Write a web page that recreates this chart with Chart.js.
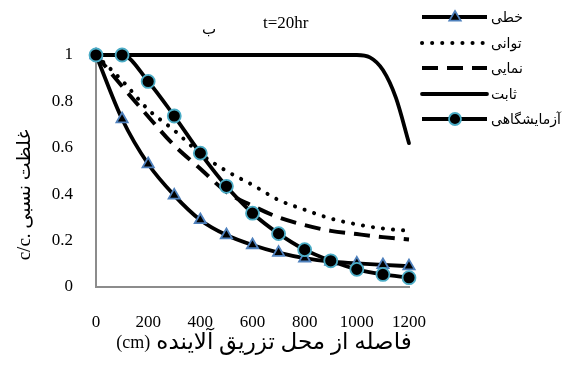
<!DOCTYPE html>
<html>
<head>
<meta charset="utf-8">
<script src="https://cdn.jsdelivr.net/npm/chart.js@4/dist/chart.umd.min.js"></script>
<style>
  html, body { margin: 0; padding: 0; background: #ffffff; }
  #wrap { width: 569px; height: 366px; position: relative; }
</style>
</head>
<body>
<div id="wrap"><canvas id="c" width="569" height="366"></canvas></div>
<script>
// ---- data ----
const distances = [0, 100, 200, 300, 400, 500, 600, 700, 800, 900, 1000, 1100, 1200];
const linearVals = [1, 0.724, 0.53, 0.395, 0.289, 0.224, 0.181, 0.148, 0.124, 0.109, 0.102, 0.095, 0.09];
const powerVals = [1, 0.89, 0.765, 0.675, 0.575, 0.5, 0.44, 0.375, 0.333, 0.295, 0.27, 0.252, 0.242];
const expVals = [1, 0.865, 0.735, 0.61, 0.51, 0.41, 0.35, 0.30, 0.267, 0.242, 0.228, 0.215, 0.205];
const constDistances = [0, 1000, 1050, 1100, 1150, 1200];
const constVals = [1, 1, 0.99, 0.935, 0.815, 0.62];
const labVals = [1, 1, 0.886, 0.737, 0.577, 0.434, 0.318, 0.23, 0.161, 0.113, 0.076, 0.054, 0.04];
const seriesNames = ['خطی', 'توانی', 'نمایی', 'ثابت', 'آزمایشگاهی'];
const xTickValues = [0, 200, 400, 600, 800, 1000, 1200];
const yTickValues = [0, 0.2, 0.4, 0.6, 0.8, 1];
const titleText = 't=20hr';
const subLabel = 'ب';
const xTitlePersian = 'فاصله از محل تزریق آلاینده';
const xTitleUnit = '(cm)';
const yTitleText = 'c/c. غلظت نسبی';

const pts = (xs, ys) => xs.map((x, i) => ({ x: x, y: ys[i] }));
const SERIF = "'Liberation Serif', 'Times New Roman', 'DejaVu Sans', serif";
const ARABIC = "'Liberation Serif', 'DejaVu Sans', serif";

const datasets = [
  { label: seriesNames[0], data: pts(distances, linearVals), borderColor: '#000', borderWidth: 3.8,
    pointStyle: 'triangle', pointRadius: 6.5, pointBackgroundColor: '#000', pointBorderColor: '#4F81BD',
    pointBorderWidth: 1.8, cubicInterpolationMode: 'monotone', order: 1 },
  { label: seriesNames[1], data: pts(distances, powerVals), borderColor: '#000', borderWidth: 4,
    borderDash: [0.1, 10], borderCapStyle: 'round', pointRadius: 0, cubicInterpolationMode: 'monotone', order: 3 },
  { label: seriesNames[2], data: pts(distances, expVals), borderColor: '#000', borderWidth: 4,
    borderDash: [16, 9], borderCapStyle: 'butt', pointRadius: 0, cubicInterpolationMode: 'monotone', order: 4 },
  { label: seriesNames[3], data: pts(constDistances, constVals), borderColor: '#000', borderWidth: 3.8,
    borderCapStyle: 'round', pointRadius: 0, cubicInterpolationMode: 'monotone', order: 5 },
  { label: seriesNames[4], data: pts(distances, labVals), borderColor: '#000', borderWidth: 3.8,
    pointStyle: 'circle', pointRadius: 6.5, pointBackgroundColor: '#000', pointBorderColor: '#4BACC6',
    pointBorderWidth: 1.8, cubicInterpolationMode: 'monotone', order: 0 }
];

const legendRows = [17, 43, 68, 94, 119];

const decorPlugin = {
  id: 'decor',
  afterDraw(chart) {
    const ctx = chart.ctx;
    ctx.save();
    // legend
    chart.data.datasets.forEach((ds, i) => {
      const y = legendRows[i];
      ctx.save();
      ctx.strokeStyle = ds.borderColor;
      ctx.lineWidth = ds.borderWidth;
      ctx.lineCap = ds.borderCapStyle || 'butt';
      ctx.setLineDash(ds.borderDash || []);
      ctx.beginPath();
      ctx.moveTo(422, y);
      ctx.lineTo(487, y);
      ctx.stroke();
      ctx.setLineDash([]);
      if (ds.pointRadius > 0) {
        const cx = 455, r = ds.pointRadius - 0.5;
        ctx.fillStyle = ds.pointBackgroundColor;
        ctx.strokeStyle = ds.pointBorderColor;
        ctx.lineWidth = ds.pointBorderWidth;
        ctx.beginPath();
        if (ds.pointStyle === 'triangle') {
          ctx.moveTo(cx, y - r);
          ctx.lineTo(cx + r * 0.95, y + r * 0.6);
          ctx.lineTo(cx - r * 0.95, y + r * 0.6);
          ctx.closePath();
        } else {
          ctx.arc(cx, y, r, 0, Math.PI * 2);
        }
        ctx.fill();
        ctx.stroke();
      }
      ctx.restore();
      ctx.fillStyle = '#000';
      ctx.font = "14px " + ARABIC;
      ctx.textAlign = 'left';
      ctx.textBaseline = 'middle';
      ctx.fillText(ds.label, 491, y + 1);
    });
    // title texts
    ctx.fillStyle = '#000';
    ctx.font = "17px " + SERIF;
    ctx.textAlign = 'left';
    ctx.textBaseline = 'middle';
    ctx.fillText(titleText, 263, 24);
    ctx.font = "15px " + ARABIC;
    ctx.fillText(subLabel, 202, 30);
    // x title: "(cm)" on the left, Persian phrase right-to-left after it, group centred
    ctx.font = "18px " + SERIF;
    const unitW = ctx.measureText(xTitleUnit).width;
    ctx.font = "23px " + ARABIC;
    const perW = ctx.measureText(xTitlePersian).width;
    const gap = 6;
    const startX = 264 - (unitW + gap + perW) / 2;
    ctx.font = "18px " + SERIF;
    ctx.textAlign = 'left';
    ctx.fillText(xTitleUnit, startX, 343);
    ctx.font = "23px " + ARABIC;
    ctx.direction = 'rtl';
    ctx.textAlign = 'right';
    ctx.fillText(xTitlePersian, startX + unitW + gap + perW, 343);
    ctx.direction = 'ltr';
    // y title
    ctx.save();
    ctx.translate(25, 195);
    ctx.rotate(-Math.PI / 2);
    ctx.textAlign = 'center';
    ctx.font = "19px " + ARABIC;
    ctx.fillText(yTitleText, 0, 0);
    ctx.restore();
    ctx.restore();
  }
};

new Chart(document.getElementById('c'), {
  type: 'line',
  data: { datasets: datasets },
  options: {
    responsive: false,
    animation: false,
    devicePixelRatio: 1,
    layout: { padding: { left: 0, right: 160, top: 55, bottom: 0 } },
    plugins: { legend: { display: false }, tooltip: { enabled: false }, title: { display: false } },
    elements: { line: { fill: false }, point: { hoverRadius: 6.5 } },
    clip: false,
    scales: {
      x: {
        type: 'linear', min: 0, max: 1200,
        afterBuildTicks: (s) => { s.ticks = xTickValues.map(v => ({ value: v })); },
        afterFit: (s) => { s.height = 79; },
        grid: { display: false, drawTicks: false },
        border: { display: true, color: '#8c8c8c', width: 2 },
        ticks: { color: '#000', font: { family: SERIF, size: 17 }, padding: 25, maxRotation: 0, autoSkip: false,
          callback: (v) => String(v) }
      },
      y: {
        type: 'linear', min: 0, max: 1,
        afterBuildTicks: (s) => { s.ticks = yTickValues.map(v => ({ value: v })); },
        afterFit: (s) => { s.width = 96; },
        grid: { display: false, drawTicks: false },
        border: { display: true, color: '#8c8c8c', width: 2 },
        ticks: { color: '#000', font: { family: SERIF, size: 17 }, padding: 23,
          callback: (v) => String(Math.round(v * 10) / 10) }
      }
    }
  },
  plugins: [decorPlugin]
});
</script>
</body>
</html>
